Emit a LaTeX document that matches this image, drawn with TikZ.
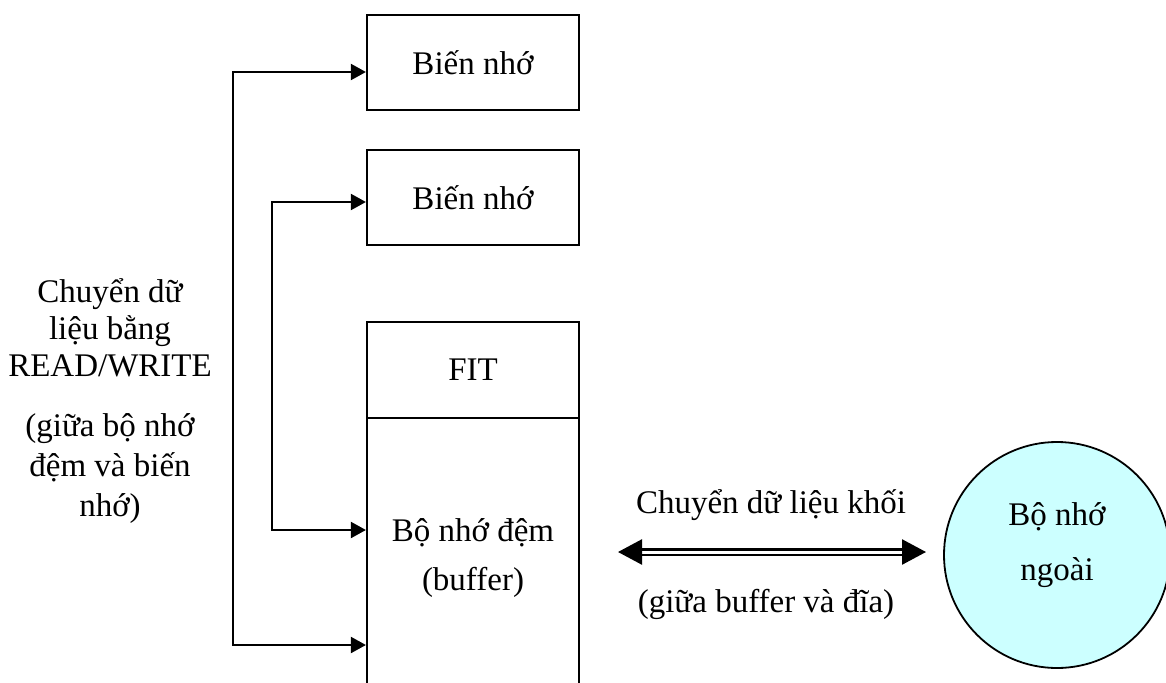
\documentclass[tikz,border=0pt]{standalone}
\usepackage{fontspec}
\setmainfont{Liberation Serif}
\usetikzlibrary{arrows.meta, calc, positioning}
\definecolor{diskfill}{RGB}{204,255,255}

\tikzset{
  box/.style={draw, line width=2.2pt, minimum width=212pt, inner sep=0pt},
  link/.style={line width=2pt, {Triangle[length=15pt,width=16pt]}-{Triangle[length=15pt,width=16pt]}},
  dbl/.style={double, line width=2.5pt, double distance=3pt,
    {Triangle[length=24pt,width=25pt]}-{Triangle[length=24pt,width=25pt]}},
  txt/.style={font=\fontsize{33pt}{40pt}\selectfont, inner sep=0pt}
}

\begin{document}
\begin{tikzpicture}[x=1pt, y=-1pt, every node/.style={txt}]

\useasboundingbox (0,0) rectangle (1166,682);

% bien nho
\node[box, minimum height=95pt] (var1) at (473,62.5) {Biến nhớ};
\node[box, minimum height=95pt] (var2) at (473,197.5) {Biến nhớ};

% bo nho dem
\node[box, minimum height=96pt] (fit) at (473,370) {FIT};
\node[box, minimum height=382pt] (buffer) at (473,609) {};
\node[anchor=base, align=center] (buftxt) at (473,590) {Bộ nhớ đệm\\[9pt](buffer)};

% bo nho ngoai
\node[circle, draw, line width=1.8pt, fill=diskfill, minimum size=226pt] (disk) at (1057,555) {};
\node[anchor=base, align=center] (disktxt) at (1057,580) {Bộ nhớ\\[15pt]ngoài};

% READ/WRITE
\coordinate (leftTop) at (233,72);
\coordinate (leftBot) at (233,645);
\coordinate (midTop) at (272,202);
\coordinate (midBot) at (272,530);

\draw[link] (var1.west |- leftTop) -- (leftTop) -- (leftBot) -- (leftBot -| buffer.west);
\draw[link] (var2.west |- midTop) -- (midTop) -- (midBot) -- (midBot -| buffer.west);

\node[anchor=base, align=center] (rwtxt) at (110,516)
  {Chuyển dữ\\[-3pt]liệu bằng\\[-3pt]READ/WRITE\\[20pt](giữa bộ nhớ\\đệm và biến\\nhớ)};

% khoi
\coordinate (blkL) at (618,552);
\coordinate (blkR) at (926,552);
\draw[dbl] (blkL) -- (blkR);
\node[anchor=base] (blktop) at (771,513) {Chuyển dữ liệu khối};
\node[anchor=base] (blkbot) at (766,612) {(giữa buffer và đĩa)};

\end{tikzpicture}
\end{document}
